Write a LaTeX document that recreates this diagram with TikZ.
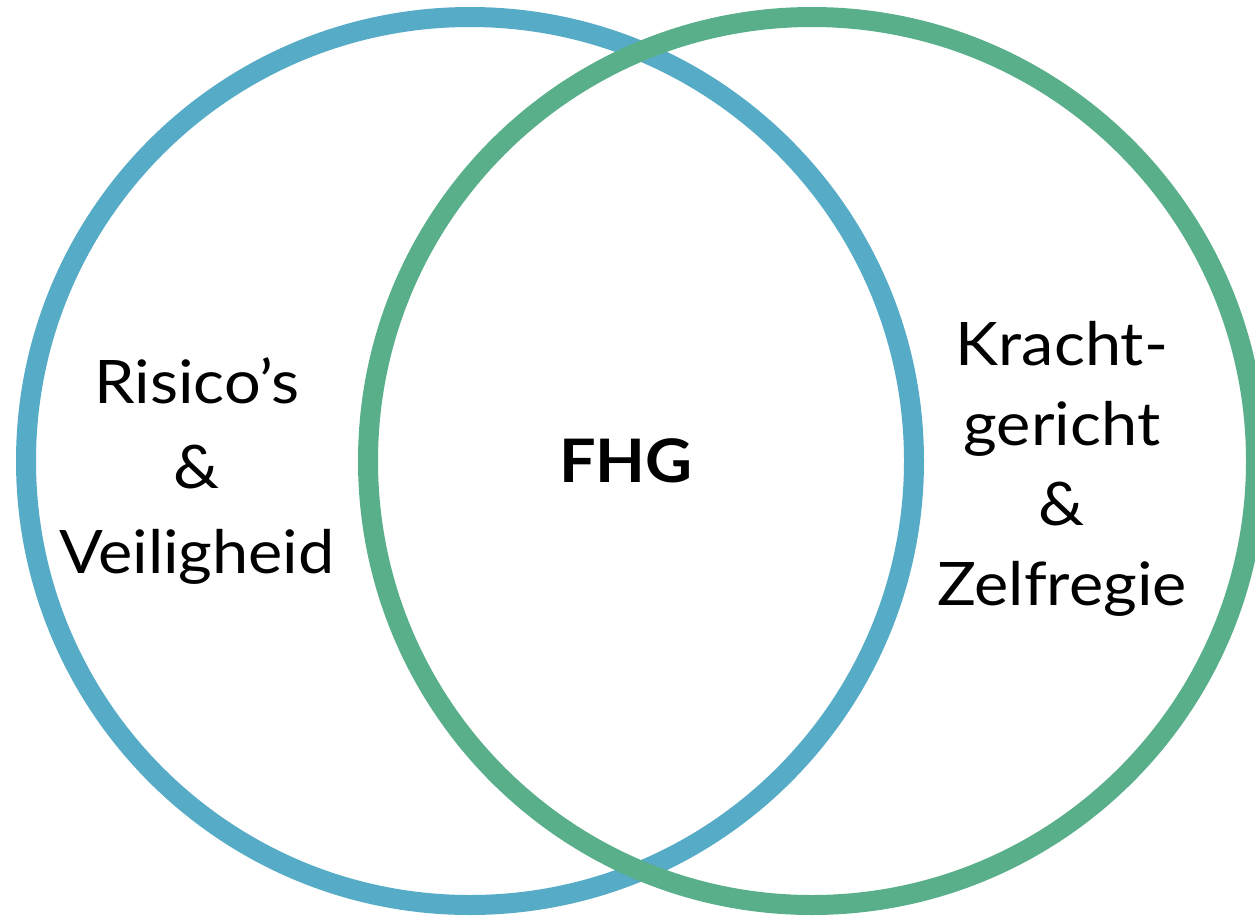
\documentclass[tikz,border=0pt]{standalone}
\usepackage{fontspec}
\setmainfont{Lato}[FakeStretch=1.08]
\definecolor{riskblue}{RGB}{86,171,198}
\definecolor{forcegreen}{RGB}{90,175,139}
\begin{document}
\begin{tikzpicture}[x=1pt,y=-1pt,
  ring/.style={circle,draw=#1,line width=20pt,minimum size=888pt,inner sep=0pt},
  word/.style={anchor=base,inner sep=0pt,font=\fontsize{60}{72}\selectfont}]
  \useasboundingbox (0,0) rectangle (1255,921);
  \clip (0,0) rectangle (1255,921);
  % Rings, green drawn over blue
  \node[ring=riskblue] (risk) at (470,461) {};
  \node[ring=forcegreen] (force) at (812,461) {};

  % Left ring
  \foreach \txt [count=\i] in {Risico’s,\&,Veiligheid}
    \node[word] (left\i) at (197,318+85*\i) {\txt};

  % Right ring
  \foreach \txt [count=\i] in {Kracht-,gericht,\&,Zelfregie}
    \node[word] (right\i) at (1062,285+80*\i) {\txt};

  % Overlap
  \node[word,font=\fontsize{60}{72}\selectfont\bfseries] (fhg) at (626,482) {FHG};
\end{tikzpicture}
\end{document}
